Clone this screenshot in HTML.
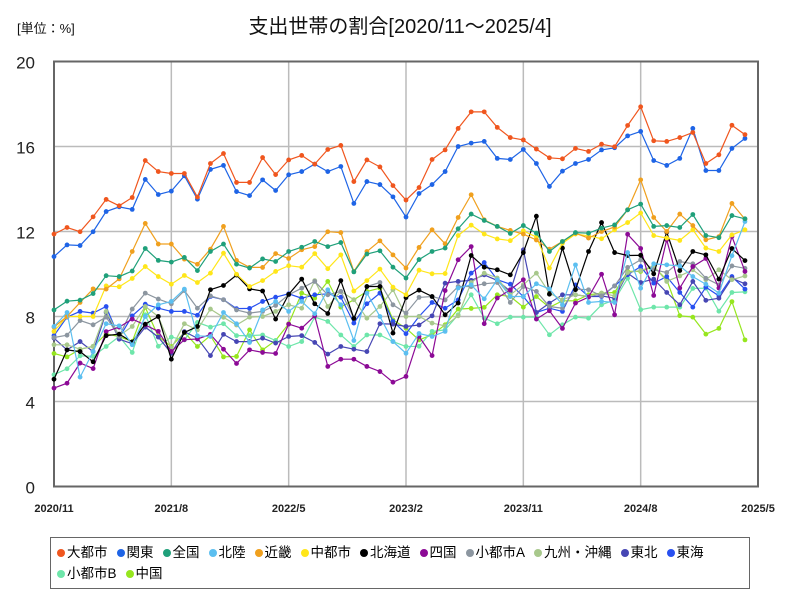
<!DOCTYPE html>
<html><head><meta charset="utf-8"><style>
body{margin:0;background:#fff;font-family:"Liberation Sans","Noto Sans CJK JP",sans-serif;}
#wrap{position:relative;width:800px;height:600px;overflow:hidden;}
svg text{font-family:"Liberation Sans","Noto Sans CJK JP",sans-serif;}
#legend{position:absolute;left:50px;top:537px;width:700px;height:52px;border:1.5px solid #666;box-sizing:border-box;padding:4px 6px;font-size:13.5px;line-height:21px;}
.le{display:inline-block;margin-right:9px;white-space:nowrap;}
.dot{display:inline-block;width:8px;height:8px;border-radius:50%;margin-right:2px;vertical-align:0px;}
</style></head><body>
<div id="wrap">
<svg id="chart" width="800" height="600"></svg>
<div id="legend"></div>
</div>
<script>
const months=54;
const yTicks=[0,4,8,12,16,20];
const xTickLabels=["2020/11","2021/8","2022/5","2023/2","2023/11","2024/8","2025/5"];
const names=["大都市","関東","全国","北陸","近畿","中都市","北海道","四国","小都市A","九州・沖縄","東北","東海","小都市B","中国"];
const colors=["#f0561e","#1e64e6","#1fa07a","#5cbff0","#f0a01e","#ffe619","#000000","#8c0a96","#8c96a0","#a8c88c","#4646b4","#2850f0","#6ee6aa","#96e61e"];
const s_daitoshi=[11.88,12.19,11.99,12.69,13.51,13.21,13.6,15.34,14.82,14.73,14.73,13.62,15.2,15.67,14.31,14.31,15.48,14.68,15.37,15.58,15.17,15.86,16.05,14.35,15.37,15.04,14.16,13.48,14.07,15.39,15.84,16.85,17.63,17.63,16.9,16.42,16.31,15.88,15.47,15.42,15.91,15.77,16.11,15.99,16.99,17.87,16.27,16.24,16.42,16.66,15.2,15.61,17.0,16.56];
const s_kanto=[10.82,11.37,11.34,11.99,12.94,13.16,13.04,14.45,13.74,13.9,14.62,13.52,14.92,15.11,13.88,13.69,14.43,13.93,14.67,14.82,15.17,14.82,15.06,13.32,14.35,14.21,13.63,12.68,13.79,14.21,14.82,16.0,16.16,16.24,15.44,15.39,15.86,15.2,14.12,14.84,15.2,15.39,15.84,15.94,16.5,16.71,15.34,15.11,15.44,16.85,14.87,14.87,15.91,16.38];
const s_zenkoku=[8.31,8.72,8.77,9.08,9.92,9.88,10.14,11.2,10.64,10.56,10.78,10.16,11.06,11.41,10.46,10.28,10.71,10.59,11.06,11.26,11.53,11.29,11.48,10.1,10.94,11.09,10.32,9.81,10.68,11.06,11.22,12.13,12.82,12.52,12.24,11.91,12.28,11.92,11.06,11.53,11.95,11.92,12.16,12.31,13.02,13.29,12.24,12.28,12.19,12.8,11.81,11.71,12.75,12.6];
const s_hokuriku=[7.53,8.19,5.15,6.35,7.66,7.56,6.67,8.0,8.55,8.71,9.29,7.09,7.06,8.19,7.66,6.78,8.31,8.71,8.24,8.71,8.13,9.26,8.55,6.87,9.1,8.0,6.82,6.27,7.2,7.06,7.3,9.34,9.49,8.83,9.73,8.94,8.94,9.54,9.3,8.55,10.43,8.66,8.71,8.66,11.01,9.33,10.48,10.43,10.38,9.88,9.52,9.1,10.86,12.47];
const s_kinki=[7.5,8.0,8.66,9.3,9.29,9.77,11.06,12.38,11.41,11.41,10.7,10.46,11.17,12.24,10.64,10.31,10.31,10.96,10.73,11.14,11.29,11.99,11.95,10.12,11.06,11.56,10.9,10.28,11.25,12.08,11.42,12.66,13.73,12.55,12.24,12.05,11.88,11.6,11.17,11.53,11.92,11.69,12.0,12.21,13.02,14.43,12.66,12.0,12.82,12.28,11.61,11.76,13.32,12.58];
const s_chutoshi=[7.3,8.0,8.0,8.0,9.44,9.4,9.79,10.35,9.88,9.52,9.93,9.6,10.04,10.98,9.99,9.41,9.69,10.12,10.39,10.32,10.96,10.25,10.9,9.2,9.69,10.23,9.38,9.02,10.18,10.01,10.02,11.81,12.3,11.88,11.65,11.57,12.03,11.74,10.28,11.45,11.88,11.8,11.66,12.08,12.42,12.87,11.81,11.69,11.58,12.08,11.22,11.06,11.84,12.08];
const s_hokkaido=[5.05,6.43,6.35,5.87,7.1,7.17,6.8,7.64,8.0,5.99,7.25,7.53,9.26,9.46,9.95,9.3,9.2,7.88,9.04,9.76,8.6,8.14,9.69,7.91,9.41,9.41,7.22,8.89,9.24,8.94,8.08,8.63,10.87,10.32,10.2,9.96,11.01,12.72,9.05,11.22,9.26,11.06,12.42,11.01,10.87,10.88,10.01,11.97,10.16,11.06,10.9,9.76,11.2,10.63];
const s_shikoku=[4.63,4.86,5.81,5.55,7.29,7.5,7.88,7.6,7.3,6.35,6.91,6.94,7.16,6.46,5.79,6.43,6.31,6.26,7.64,7.45,8.03,5.65,5.99,5.99,5.65,5.41,4.91,5.18,7.06,6.16,9.22,10.67,11.29,7.66,8.87,9.26,9.73,7.88,8.27,7.44,8.63,8.91,9.99,8.08,11.87,11.2,8.99,11.61,9.34,10.35,10.73,9.34,11.77,10.12];
const s_shotoshiA=[7.01,7.12,7.81,7.61,7.97,7.06,8.35,9.1,8.82,8.6,9.22,8.39,8.97,8.79,8.31,8.16,8.24,8.52,9.02,9.33,9.65,9.02,9.18,7.92,9.41,9.6,8.55,8.16,8.9,8.94,8.78,9.41,9.41,9.54,9.6,8.66,9.41,9.18,8.47,8.39,9.29,9.26,8.97,9.44,10.31,10.67,10.2,10.07,10.59,10.48,9.8,9.49,10.38,10.27];
const s_kyushu=[6.67,6.67,6.46,6.6,8.24,7.09,7.53,8.47,8.0,6.5,7.66,7.37,8.35,7.96,7.6,7.97,8.0,8.24,8.55,8.39,9.69,8.47,9.18,8.79,7.92,8.47,9.26,8.0,8.0,7.69,7.56,8.03,9.6,10.04,9.81,9.02,9.49,10.04,9.1,8.78,9.02,8.94,9.1,8.97,10.07,10.16,10.38,9.65,9.91,10.2,9.73,10.2,9.73,9.91];
const s_tohoku=[6.98,6.43,6.82,6.35,8.19,6.93,6.72,7.5,7.03,6.27,7.29,6.98,6.16,7.16,6.82,6.82,6.98,6.75,7.06,7.1,6.78,6.23,6.59,6.46,6.35,7.66,7.64,7.53,7.6,8.03,9.57,9.65,9.7,9.96,9.7,9.18,11.14,8.19,8.63,9.02,9.02,8.94,8.97,8.86,10.04,9.6,9.76,9.13,8.55,9.65,8.76,8.86,9.8,9.54];
const s_tokai=[7.1,7.97,8.24,8.16,8.47,7.0,8.03,8.58,8.39,8.24,8.24,8.06,8.94,8.79,8.37,8.38,8.71,8.91,9.07,8.86,9.02,9.07,8.91,7.69,8.6,9.1,7.77,7.19,8.0,8.66,8.39,8.78,10.04,10.54,9.73,9.52,8.94,8.19,8.39,8.24,9.49,8.94,8.94,9.44,9.96,10.35,9.57,9.88,9.13,8.44,9.38,8.97,9.88,9.29];
const s_shotoshiB=[5.26,5.54,6.15,6.12,6.59,7.06,6.31,8.08,6.6,7.03,6.9,7.72,7.5,7.66,7.1,7.1,7.13,6.87,6.59,6.82,7.97,7.77,7.13,6.59,7.13,7.13,6.82,6.59,6.6,7.3,7.37,8.08,9.02,7.92,7.66,7.97,7.97,7.97,7.14,7.61,7.97,7.92,8.55,8.78,9.8,8.32,8.44,8.44,8.44,9.32,9.33,8.25,9.13,9.16];
const s_chugoku=[6.26,6.1,6.46,6.59,7.18,7.06,6.82,8.43,7.06,6.59,7.25,6.59,7.1,6.1,6.12,7.37,6.43,6.87,7.66,9.1,8.86,9.65,8.44,8.79,9.18,9.33,7.84,7.45,6.9,7.14,7.61,8.35,8.38,8.43,9.02,8.94,8.44,8.94,8.43,8.74,8.74,9.02,9.1,9.13,10.12,10.12,10.35,9.73,8.04,7.97,7.17,7.44,8.7,6.9];
const seriesData=[s_daitoshi,s_kanto,s_zenkoku,s_hokuriku,s_kinki,s_chutoshi,s_hokkaido,s_shikoku,s_shotoshiA,s_kyushu,s_tohoku,s_tokai,s_shotoshiB,s_chugoku];
const drawOrder=[13,12,11,10,9,8,7,6,5,4,3,2,1,0];

const NS="http://www.w3.org/2000/svg";
const svg=document.getElementById('chart');
const L=54,R=758,T=61.5,B=486.5,YMAX=20;
function xs(i){return L+(R-L)*i/months;}
function ys(v){return B-(B-T)*v/YMAX;}
function mk(tag,attrs,parent){const e=document.createElementNS(NS,tag);for(const k in attrs)e.setAttribute(k,attrs[k]);(parent||svg).appendChild(e);return e;}

let t=mk('text',{x:400,y:33,'text-anchor':'middle','font-size':'20','fill':'#111'});


t.textContent='支出世帯の割合[2020/11～2025/4]';
t=mk('text',{x:17,y:33,'font-size':'13','fill':'#111'});


t.textContent='[単位：%]';

const grid=mk('g',{});


yTicks.forEach(v=>{
  if(v>0&&v<YMAX) mk('line',{x1:L,x2:R,y1:ys(v),y2:ys(v),stroke:'#bbb','stroke-width':1.5},grid);
  const lb=mk('text',{x:35,y:ys(v)+7,'text-anchor':'end','font-size':'17','fill':'#222'});
  
  
  lb.textContent=v;
});
xTickLabels.forEach((s,k)=>{
  const x=xs(k*9);
  if(k>0&&k<xTickLabels.length-1) mk('line',{x1:x,x2:x,y1:T,y2:B,stroke:'#bbb','stroke-width':1.5},grid);
  const lb=mk('text',{x:x,y:512,'text-anchor':'middle','font-size':'11','font-weight':'bold','fill':'#222'});
  
  
  lb.textContent=s;
});
const frame=mk('rect',{x:L,y:T,width:R-L,height:B-T,fill:'none',stroke:'#666','stroke-width':2});



drawOrder.forEach(si=>{
  const d=seriesData[si];
  const g=mk('g',{});
  
  
  const pts=d.map((v,i)=>xs(i).toFixed(1)+','+ys(v).toFixed(1)).join(' ');
  mk('polyline',{points:pts,fill:'none',stroke:colors[si],'stroke-width':1.2},g);
  d.forEach((v,i)=>{
    const c=mk('circle',{cx:xs(i),cy:ys(v),r:2.4,fill:colors[si]},g);
    
    
  });
});

const leg=document.getElementById('legend');
names.forEach((n,i)=>{
  const e=document.createElement('span');
  e.className='le';
  
  
  e.innerHTML='<span class="dot" style="background:'+colors[i]+'"></span>'+n;
  leg.appendChild(e);
});
</script>
</body></html>
